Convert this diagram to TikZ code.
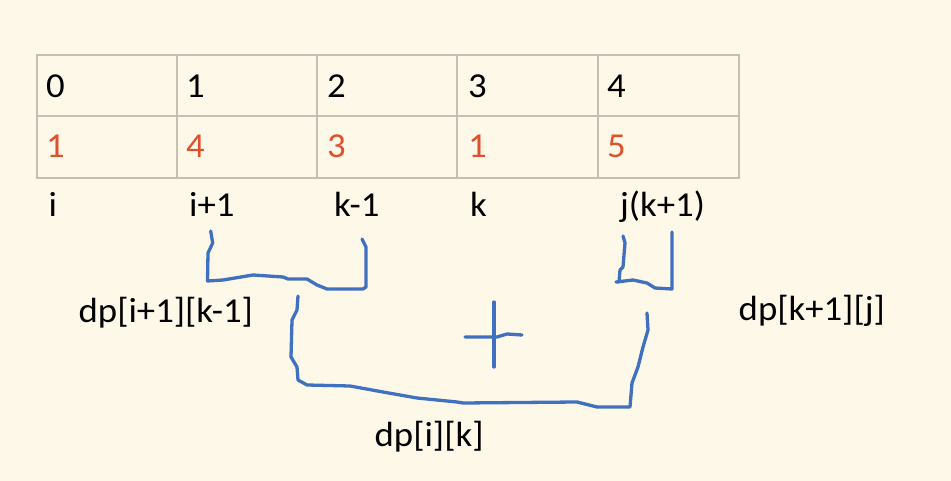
\documentclass[tikz,border=0pt]{standalone}
\usepackage{fontspec}
\setmainfont[FakeStretch=1.05]{Carlito}
\definecolor{bg}{HTML}{FEF8E8}
\definecolor{gridc}{HTML}{C4BFB5}
\definecolor{numred}{HTML}{E0502D}
\definecolor{pen}{HTML}{4070C0}
\begin{document}
\begin{tikzpicture}[x=1pt,y=-1pt,
  txt/.style={anchor=base west,inner sep=0pt,font=\fontsize{35}{38}\selectfont},
  red/.style={txt,text=numred},
  ink/.style={draw=pen,line width=3.3pt,line cap=round,line join=round},
  cell/.style={draw=gridc,line width=1.8pt}]
\fill[bg] (0,0) rectangle (951,481);
\useasboundingbox (0,0) rectangle (951,481);
% table
\foreach \xa/\xb in {37/177,177/317,317/457,457/598,598/739}{
  \draw[cell] (\xa,55) rectangle (\xb,116);
  \draw[cell] (\xa,116) rectangle (\xb,178);
}
% header row
\node[txt] (h0) at (46,97.5) {0};
\node[txt] (h1) at (186,97.5) {1};
\node[txt] (h2) at (327,97.5) {2};
\node[txt] (h3) at (468,97.5) {3};
\node[txt] (h4) at (607,97.5) {4};
% values row
\node[red] (v0) at (46,158) {1};
\node[red] (v1) at (186,158) {4};
\node[red] (v2) at (327,158) {3};
\node[red] (v3) at (468,158) {1};
\node[red] (v4) at (607,158) {5};
% index labels
\node[txt] (li) at (48.5,217) {i};
\node[txt] (lip) at (189,217) {i+1};
\node[txt] (lkm) at (334,217) {k-1};
\node[txt] (lk) at (470,217) {k};
\node[txt] (lj) at (620,217) {j(k+1)};
% dp labels
\node[txt] (dpa) at (78.5,323) {dp[i+1][k-1]};
\node[txt] (dpb) at (738.5,320) {dp[k+1][j]};
\node[txt] (dpc) at (374.5,446) {dp[i][k]};
% bracket 1
\draw[ink] (210.7,231) -- (212.7,243) -- (208,253) -- (207.5,281) -- (223,280) -- (253,275)
  -- (283,277) -- (288,279) -- (307,279) -- (317,285) -- (327,289) -- (363,289)
  -- (366,287) -- (366,247) -- (362,239);
% bracket 2
\draw[ink] (623,236) -- (625,243) -- (623,267) -- (620,270) -- (619,282) -- (616,282)
  -- (633,280) -- (647,283) -- (655,288) -- (672,289) -- (672,232);
% big bracket
\draw[ink] (298,296) -- (297,310) -- (292,320) -- (291,357) -- (297,367) -- (298,380)
  -- (307,385) -- (350,386) -- (383,392) -- (417,398) -- (457,402) -- (463,403)
  -- (577,402) -- (597,407) -- (630,407) -- (632,383) -- (638,367) -- (643,347)
  -- (648,330) -- (647,313);
% plus
\draw[ink] (465,337) -- (497,337) -- (507,334) -- (522,335);
\draw[ink] (494,302) -- (494,367);
\end{tikzpicture}
\end{document}
